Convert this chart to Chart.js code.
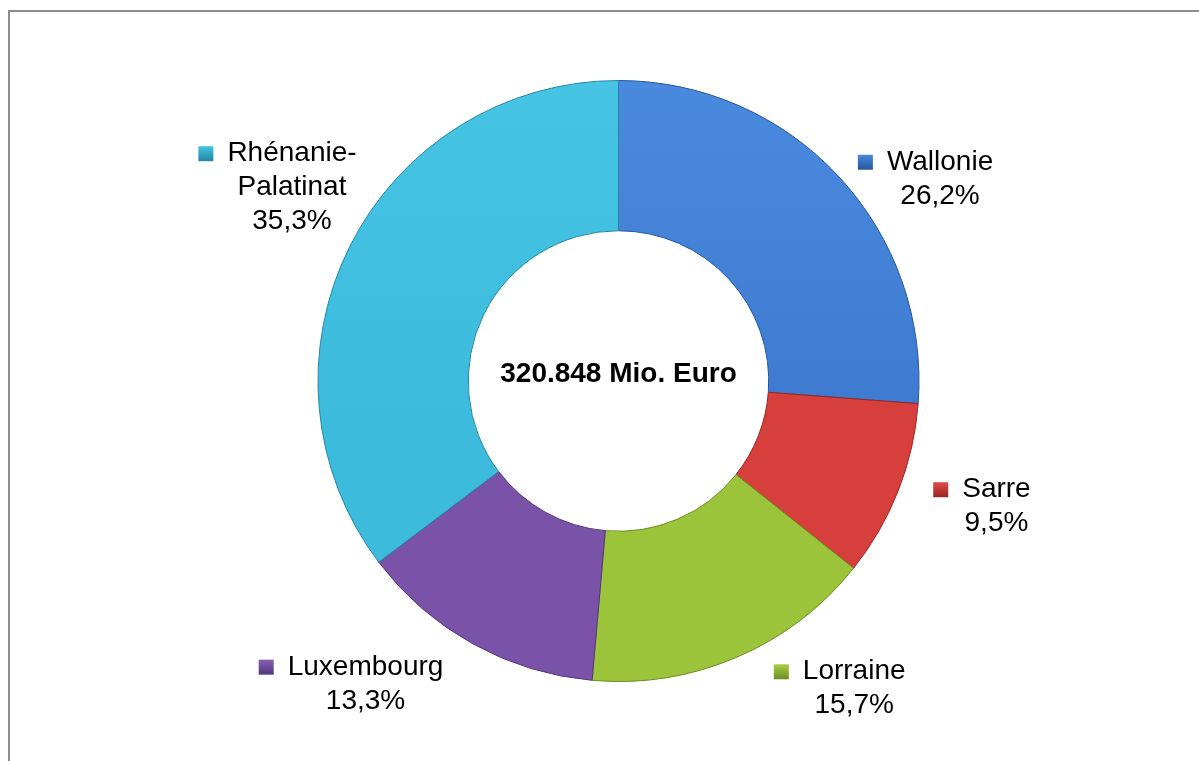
<!DOCTYPE html>
<html>
<head>
<meta charset="utf-8">
<script src="https://cdn.jsdelivr.net/npm/chart.js@4"></script>
<style>
  html, body { margin: 0; padding: 0; background: #fff; }
  #wrap { position: relative; width: 1199px; height: 761px; overflow: hidden; }
  #frame {
    position: absolute; left: 8px; top: 10px; right: -10px; bottom: -10px;
    border-top: 2px solid #8c8c8c; border-left: 2px solid #8c8c8c;
  }
  #share { position: absolute; left: 0; top: 0; }
</style>
</head>
<body>
<div id="wrap">
  <div id="frame"></div>
  <canvas id="share" width="1199" height="761"></canvas>
</div>
<script>
const regions = ["Wallonie", "Sarre", "Lorraine", "Luxembourg", "Rhénanie-Palatinat"];
const labelLines = [["Wallonie"], ["Sarre"], ["Lorraine"], ["Luxembourg"], ["Rhénanie-", "Palatinat"]];
const shares = [26.2, 9.5, 15.7, 13.3, 35.3];
const totalText = "320.848 Mio. Euro";

const sliceLight = ["#4a8ade", "#e04a45", "#a8cf46", "#8660b4", "#45c4e4"];
const sliceColors = ["#3e7bd0", "#d63f3b", "#9cc43b", "#7a53a8", "#3cbbdd"];
const sliceEdges = ["#24569c", "#9a2523", "#6c8c22", "#53367a", "#2486a3"];
// small hand corrections so the labels sit where the original put them
const labelNudge = [[-3, 23], [7, 5], [25, 4], [-15, 14], [34, -46]];

const ctx = document.getElementById("share").getContext("2d");

const labelFont = "28px 'Liberation Sans', Arial, sans-serif";
const lineHeight = 34;

function sliceFill(context) {
    const area = context.chart.chartArea;
    const i = context.dataIndex;
    if (!area) return sliceColors[i];
    const g = context.chart.ctx.createLinearGradient(0, area.top, 0, area.bottom);
    g.addColorStop(0, sliceLight[i]);
    g.addColorStop(0.55, sliceColors[i]);
    g.addColorStop(1, sliceColors[i]);
    return g;
}

const outsideLabels = {
    id: "outsideLabels",
    afterDatasetsDraw(chart) {
        const c = chart.ctx;
        const arcs = chart.getDatasetMeta(0).data;
        c.save();
        c.font = labelFont;
        c.fillStyle = "#000";
        c.textBaseline = "middle";
        c.textAlign = "center";
        arcs.forEach((arc, i) => {
            const p = arc.getProps(["x", "y", "startAngle", "endAngle", "outerRadius"], true);
            const mid = (p.startAngle + p.endAngle) / 2;
            const ax = p.x + Math.cos(mid) * p.outerRadius * 1.1 + labelNudge[i][0];
            const ay = p.y + Math.sin(mid) * p.outerRadius * 1.1 + labelNudge[i][1];
            const lines = labelLines[i].concat([shares[i].toFixed(1).replace(".", ",") + "%"]);
            const textW = Math.max(...lines.map(l => c.measureText(l).width));
            const markSize = 15, gap = 14;
            const blockW = markSize + gap + textW;
            const left = Math.cos(mid) >= 0 ? ax : ax - blockW;
            const textCx = left + markSize + gap + textW / 2;
            const top = ay - (lines.length - 1) * lineHeight / 2;
            lines.forEach((l, k) => c.fillText(l, textCx, top + k * lineHeight));
            // legend key
            const firstW = c.measureText(lines[0]).width;
            const mx = textCx - firstW / 2 - gap - markSize;
            const my = top - markSize / 2;
            const g = c.createLinearGradient(0, my, 0, my + markSize);
            g.addColorStop(0, sliceLight[i]);
            g.addColorStop(1, sliceEdges[i]);
            c.fillStyle = g;
            c.fillRect(mx, my, markSize, markSize);
            c.fillStyle = "#000";
        });
        // centre total
        const a0 = arcs[0];
        c.font = "bold 28px 'Liberation Sans', Arial, sans-serif";
        c.fillText(totalText, a0.x, a0.y - 7);
        c.restore();
    }
};

const shareChart = new Chart(ctx, {
    type: "doughnut",
    data: {
        labels: regions,
        datasets: [{
            data: shares,
            backgroundColor: sliceFill,
            borderColor: sliceEdges,
            borderWidth: 1
        }]
    },
    options: {
        responsive: false,
        animation: false,
        cutout: "50%",
        layout: {
            padding: { top: 80, bottom: 79, left: 38, right: 0 }
        },
        plugins: {
            legend: { display: false },
            tooltip: { enabled: false }
        }
    },
    plugins: [outsideLabels]
});
</script>
</body>
</html>
